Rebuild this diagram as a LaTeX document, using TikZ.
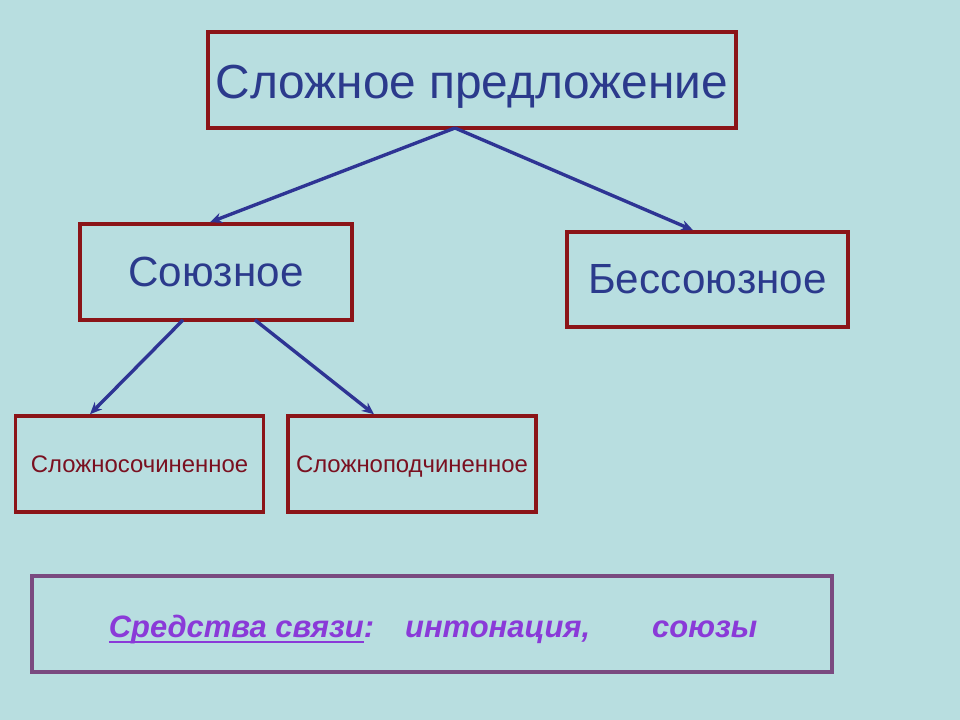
\documentclass[tikz,border=0pt]{standalone}
\usepackage{fontspec}
\setmainfont{Liberation Sans}
\usetikzlibrary{arrows.meta,positioning}
\definecolor{slidebg}{HTML}{B8DEE0}
\definecolor{frame}{HTML}{8B1418}
\definecolor{ink}{HTML}{2B3A8C}
\definecolor{darkred}{HTML}{7A1020}
\definecolor{link}{HTML}{2E3494}
\definecolor{violetframe}{HTML}{7A4A80}
\definecolor{violettext}{HTML}{8A3AD8}
\newsavebox\ulbox
\newcommand{\thickul}[1]{\sbox\ulbox{#1}\rlap{\rule[-4.5pt]{\wd\ulbox}{1.5pt}}\usebox\ulbox}
\tikzset{
  font=\rmfamily,
  branch/.style={
    -{Stealth[length=3mm,width=2.6mm]},
    draw=link,
    line width=2.4pt
  },
  block/.style={
    rectangle,
    draw=frame,
    line width=2.5pt,
    fill=slidebg,
    align=center,
    text=ink,
    inner sep=0pt
  },
  bigblock/.style={
    block,
    minimum width=13.2cm,
    minimum height=2.4cm,
    font=\fontsize{34}{40}\selectfont
  },
  midblock/.style={
    block,
    minimum width=6.8cm,
    minimum height=2.4cm,
    font=\fontsize{30}{36}\selectfont
  },
  smallblock/.style={
    block,
    minimum width=6.2cm,
    minimum height=2.4cm,
    text=darkred,
    font=\fontsize{17}{20}\selectfont
  },
  notebox/.style={
    rectangle,
    draw=violetframe,
    line width=2.5pt,
    minimum width=20cm,
    minimum height=2.4cm,
    text=violettext,
    font=\fontsize{22}{26}\selectfont\bfseries\itshape
  }
}

\begin{document}
\begin{tikzpicture}[x=0.025cm, y=-0.025cm]
  % slide background, 960 x 720
  \fill[slidebg] (0,0) rectangle (960,720);
  \useasboundingbox (0,0) rectangle (960,720);

  %====================================================================
  % Blocks
  %====================================================================
  \node[bigblock] (complex) at (472, 80) {};
  \node[text=ink, font=\fontsize{34}{40}\selectfont, anchor=base]
    (complextext) at (472, 99) {Сложное предложение};

  \node[midblock] (conj)   at (216, 272) {Союзное};
  \node[block, minimum width=7.02cm, minimum height=2.38cm,
        font=\fontsize{30}{36}\selectfont] (noconj) at (707.5, 279.5) {Бессоюзное};

  \node[smallblock] (coord) at (139.5, 464) {};
  \node[smallblock] (subord) at (412, 464) {};
  \node[text=darkred, font=\fontsize{17}{20}\selectfont, anchor=base]
    (coordtext) at (139.5, 473) {Сложносочиненное};
  \node[text=darkred, font=\fontsize{17}{20}\selectfont, anchor=base]
    (subordtext) at (412, 473) {Сложноподчиненное};

  \node[notebox] (means) at (432, 624) {};
  \node[text=violettext, font=\fontsize{22}{26}\selectfont\bfseries\itshape, anchor=base]
    (meanstext) at (433, 637)
    {\thickul{Средства связи}:\quad интонация,\qquad союзы};

  %====================================================================
  % Arrows
  %====================================================================
  \coordinate (fork) at (455, 128);
  \coordinate (conjL) at (183, 320);
  \coordinate (conjR) at (255, 320);

  \draw[branch] (fork) -- (conj.north -| 210,0);
  \draw[branch] (fork) -- (noconj.north -| 693,0);
  \draw[branch] (conjL) -- (coord.north -| 90,0);
  \draw[branch] (conjR) -- (subord.north -| 374,0);

\end{tikzpicture}
\end{document}
